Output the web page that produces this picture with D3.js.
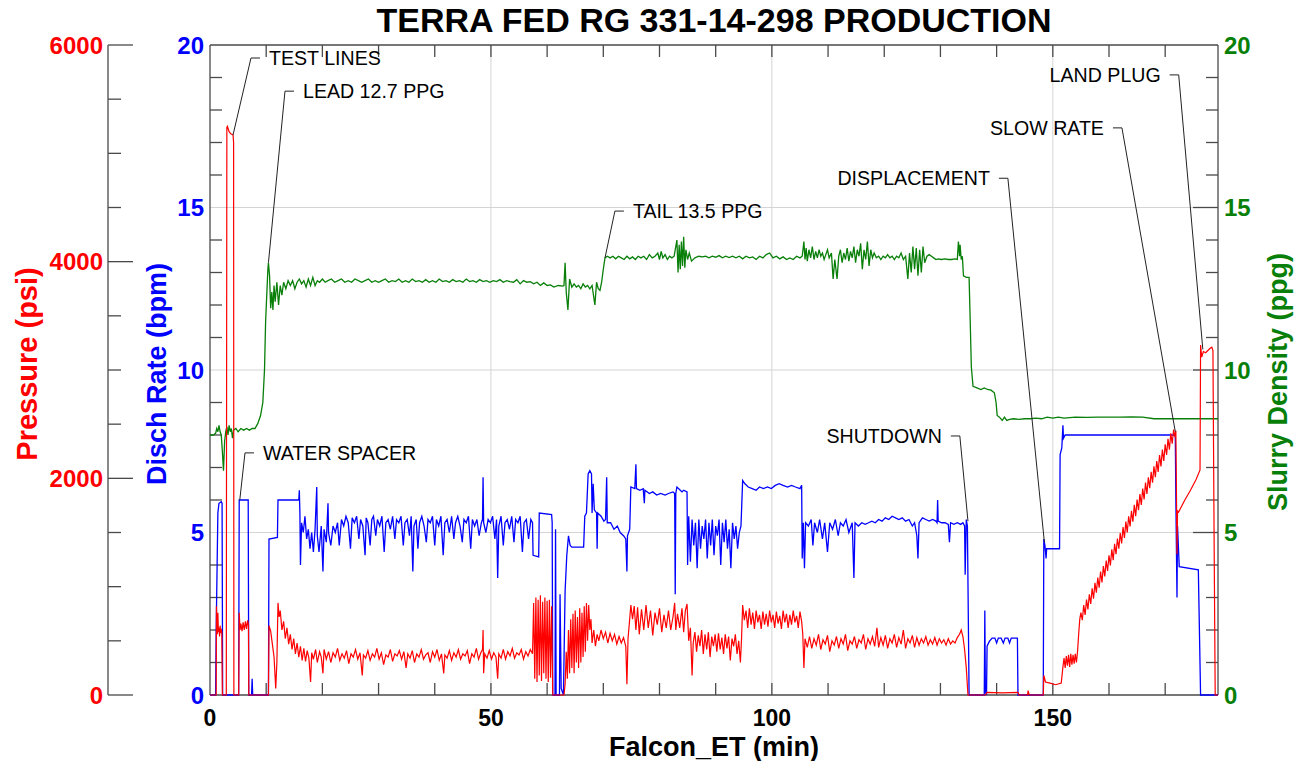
<!DOCTYPE html>
<html><head><meta charset="utf-8">
<script src="https://cdn.jsdelivr.net/npm/d3@7"></script>
<style>body{margin:0;background:#fff}text{font-family:"Liberation Sans",Arial,sans-serif}</style>
</head><body>
<svg id="chart" width="1302" height="761"></svg>
<script>
const chartTitle = "TERRA FED RG 331-14-298 PRODUCTION";
const xTitle = "Falcon_ET (min)";
const xTicks = [0, 50, 100, 150];
const rateTicks = [0, 5, 10, 15, 20];
const pressureTicks = [0, 2000, 4000, 6000];
const densityTicks = [0, 5, 10, 15, 20];

// Disch Rate (bpm) vs time (min)
const rateData = [[0,0],[1.0,0],[1.1,2.0],[1.25,3.8],[1.4,5.6],[1.6,5.9],[2.0,5.95],[2.15,5.9],[2.25,0],
[5.1,0],[5.2,6.0],[6.8,6.0],[6.9,0],[7.4,0],[7.5,0.5],[7.6,0],
[10.4,0],[10.5,4.8],[12.0,4.85],[12.1,6.0],[15.8,6.0],[15.9,6.3],[16.0,5.6],[16.1,4.0],[16.3,5.3],[16.6,5.0],[16.9,5.5],[17.2,4.8],[17.5,5.1],[17.8,4.5],[18.1,5.0],[18.4,4.4],[18.7,5.1],[19.0,6.4],[19.1,4.9],[19.4,4.4],[19.8,5.2],[20.1,3.8],[20.3,5.1],[20.7,4.7],[21.0,5.9],[21.1,5.0],[21.5,4.6],[21.9,5.2],[22.3,5.0],[22.7,5.3],[23.0,4.6],[23.4,5.4],[23.8,5.2],[24.2,5.5],[24.6,5.3],[25.0,4.5],[25.3,5.45],[25.7,5.3],[26.1,5.5],[26.5,4.8],[26.8,5.4],[27.2,5.2],[27.6,4.3],[27.8,5.45],[28.1,5.3],[28.5,4.6],[28.8,5.4],[29.1,5.5],[29.5,4.9],[29.8,5.4],[30.2,5.2],[30.6,5.5],[31.0,4.4],[31.3,5.3],[31.7,5.4],[32.1,5.1],[32.5,5.5],[32.9,4.8],[33.2,5.4],[33.6,5.3],[34.0,5.5],[34.4,4.6],[34.7,5.3],[35.1,5.4],[35.5,4.9],[35.8,5.5],[36.1,3.8],[36.3,5.2],[36.7,5.4],[37.0,4.5],[37.3,5.3],[37.7,5.5],[38.1,5.2],[38.5,4.7],[38.8,5.4],[39.2,5.3],[39.6,5.5],[40.0,4.6],[40.3,5.4],[40.7,5.2],[41.1,5.5],[41.5,4.3],[41.8,5.3],[42.2,5.4],[42.6,5.0],[43.0,5.5],[43.4,4.8],[43.7,5.3],[44.1,5.5],[44.5,5.2],[44.9,4.7],[45.2,5.4],[45.6,5.3],[46.0,5.5],[46.4,4.5],[46.7,5.4],[47.1,5.2],[47.5,5.4],[47.9,4.9],[48.3,5.3],[48.5,5.4],[48.6,6.7],[48.7,5.3],[49.1,5.0],[49.5,5.4],[49.9,5.3],[50.3,5.5],[50.7,4.8],[51.0,5.4],[51.2,3.6],[51.4,5.2],[51.8,5.5],[52.2,4.6],[52.5,5.3],[52.9,5.4],[53.3,5.1],[53.7,5.5],[54.1,4.7],[54.4,5.4],[54.8,5.3],[55.2,5.5],[55.6,4.4],[55.9,5.3],[56.3,5.4],[56.7,4.8],[57.1,5.4],[57.4,5.3],[57.5,4.3],[58.5,4.25],[58.6,5.6],[60.8,5.55],[60.9,5.3],[61.0,0],[61.4,0],[61.5,5.1],[61.6,0],[62.2,0],[62.3,3.1],[62.5,0.2],[62.9,0],[63.2,3.2],[63.5,4.3],[63.8,4.9],[64.1,4.6],[64.4,4.55],[66.5,4.55],[66.7,5.5],[67.0,5.6],[67.3,6.8],[67.6,6.9],[67.9,6.8],[68.0,5.6],[68.2,6.5],[68.4,5.7],[68.8,5.6],[68.9,4.5],[69.0,5.6],[69.6,5.5],[70.1,5.35],[70.4,5.4],[70.6,6.7],[70.7,5.3],[71.3,5.3],[71.9,5.1],[72.5,5.2],[73.0,5.0],[73.6,4.9],[74.0,4.8],[74.2,3.8],[74.3,4.9],[74.7,5.1],[74.9,6.4],[75.6,6.35],[75.8,7.1],[75.9,6.35],[76.5,6.3],[77.1,6.35],[77.3,5.9],[77.4,6.3],[78.2,6.2],[78.8,6.25],[79.5,6.15],[80.2,6.2],[81.0,6.15],[81.6,6.2],[82.4,6.25],[82.7,6.2],[82.8,3.1],[82.9,6.2],[83.1,6.4],[83.7,6.3],[84.0,6.25],[84.3,6.3],[84.9,6.25],
[85.0,4.0],[85.2,5.5],[85.5,4.1],[85.8,5.4],[86.1,4.6],[86.4,5.3],[86.7,3.9],[87.0,5.4],[87.3,4.5],[87.6,5.2],[87.9,4.8],[88.2,5.4],[88.5,4.2],[88.8,5.3],[89.1,4.6],[89.4,5.4],[89.7,4.3],[90.0,5.2],[90.3,4.9],[90.6,5.4],[90.9,4.0],[91.2,5.3],[91.5,4.7],[91.8,5.4],[92.1,4.5],[92.4,5.1],[92.7,3.9],[93.0,5.3],[93.3,4.8],[93.6,5.2],[93.9,4.5],[94.2,5.0],[94.5,5.2],[94.8,6.6],[95.2,6.5],[95.8,6.4],[96.5,6.35],[97.2,6.3],[97.8,6.4],[98.5,6.35],[99.2,6.4],[99.9,6.35],[100.6,6.45],[101.3,6.5],[102.0,6.45],[102.8,6.4],[103.5,6.45],[104.2,6.4],[105.0,6.35],[105.3,6.45],
[105.4,4.2],[105.6,5.3],[105.8,3.9],[106.0,5.3],[106.5,5.2],[107.0,5.4],[107.3,4.6],[107.6,5.3],[108.1,5.0],[108.5,5.4],[109.0,4.8],[109.4,5.3],[109.9,4.4],[110.3,5.3],[110.8,5.1],[111.3,5.4],[111.8,4.9],[112.2,5.3],[112.7,5.2],[113.2,5.4],[113.7,5.0],[114.3,5.3],[114.6,3.6],[114.8,5.3],[115.4,5.2],[116.0,5.3],[116.6,5.25],[117.2,5.3],[117.8,5.35],[118.4,5.3],[119.0,5.4],[119.6,5.35],[120.2,5.45],[120.8,5.4],[121.4,5.5],[122.0,5.45],[122.6,5.4],[123.2,5.45],[123.8,5.35],[124.4,5.4],[125.0,5.2],[125.4,5.3],[125.8,4.9],[126.0,4.2],[126.2,5.3],[126.8,5.45],[127.4,5.4],[128.0,5.35],[128.6,5.4],[129.2,5.35],[129.4,5.3],[129.5,6.0],[129.6,5.35],[130.2,5.3],[130.8,5.3],[131.4,5.25],[131.6,4.7],[131.8,5.3],[132.4,5.25],[133.0,5.3],[133.6,5.25],[134.0,5.3],[134.3,5.2],[134.4,3.7],[134.6,5.4],[134.8,5.2],[135.1,0],
[137.8,0],[137.9,2.6],[138.0,0.1],[138.2,0],[138.3,1.5],[138.7,1.65],[139.2,1.75],[139.7,1.75],[140.0,1.6],[140.3,1.75],[140.8,1.75],[141.2,1.6],[141.5,1.75],[142.0,1.75],[142.3,1.6],[142.6,1.75],[143.7,1.75],[143.8,0],
[148.3,0],[148.4,4.8],[148.6,4.6],[148.8,4.2],[148.9,4.5],[151.2,4.5],[151.3,7.4],[151.6,7.6],[151.8,8.3],[151.9,7.9],[152.2,8.0],[160.0,8.0],[171.8,8.0],[171.9,6.0],[172.0,4.5],[172.1,3.0],[172.2,5.2],[172.5,3.95],[175.9,3.85],[176.3,0],[179.4,0]];

// Pressure (psi) vs time (min)
const pressureData = [[0,0],[1.1,0],[1.15,820],[1.3,560],[1.4,760],[1.5,580],[1.6,620],[1.7,540],[1.8,640],[1.9,570],[2.0,610],[2.1,580],[2.2,0],
[2.9,0],[3.0,5240],[3.1,5250],[3.4,5200],[3.7,5180],[4.1,5170],[4.2,5100],[4.25,0],
[5.1,0],[5.2,760],[5.35,600],[5.5,660],[5.7,590],[5.9,670],[6.1,600],[6.3,680],[6.5,610],[6.7,690],[6.85,640],[6.9,0],
[10.4,0],[10.5,640],[10.8,590],[11.1,470],[11.4,350],[11.7,60],[11.9,300],[12.1,850],[12.3,720],[12.5,780],[12.8,600],[13.1,680],[13.4,520],[13.7,620],[14.0,470],[14.3,560],[14.6,420],[14.9,520],[15.2,380],[15.5,480],[15.8,350],[16.1,450],[16.4,320],[16.7,430],[17.0,310],[17.3,410],[17.6,340],[17.9,120],[18.1,390],[18.4,330],[18.8,420],[19.1,300],[19.5,400],[19.8,350],[20.1,200],
[20.3,420],[20.7,330],[21.1,400],[21.5,300],[21.9,390],[22.3,350],[22.7,430],[23.1,320],[23.5,380],[23.9,340],[24.3,410],[24.7,290],[25.1,380],[25.5,350],[25.9,420],[26.3,330],[26.7,390],[27.1,180],[27.3,370],[27.7,340],[28.1,410],[28.5,320],[28.9,380],[29.3,350],[29.7,430],[30.1,330],[30.5,390],[30.9,280],[31.3,370],[31.7,350],[32.1,420],[32.5,310],[32.9,380],[33.3,360],[33.7,410],[34.1,330],[34.5,400],[34.9,250],[35.2,380],[35.6,340],[36.0,410],[36.4,300],[36.8,380],[37.2,350],[37.6,420],[38.0,330],[38.4,370],[38.8,390],[39.2,300],[39.6,400],[40.0,350],[40.4,420],[40.8,320],[41.2,380],[41.6,200],[41.8,370],[42.2,340],[42.6,410],[43.0,320],[43.4,390],[43.8,350],[44.2,420],[44.6,330],[45.0,380],[45.4,360],[45.8,410],[46.2,290],[46.6,380],[47.0,350],[47.4,430],[47.8,330],[48.2,390],[48.5,420],[48.6,600],[48.7,200],[48.9,380],[49.3,340],[49.7,410],[50.1,330],[50.5,390],[50.9,350],[51.2,150],[51.4,380],[51.8,340],[52.2,420],[52.6,330],[53.0,400],[53.4,360],[53.8,430],[54.2,340],[54.6,390],[55.0,370],[55.4,420],[55.8,330],[56.2,400],[56.6,360],[57.0,420],[57.4,380],
[57.6,850],[57.8,150],[58.0,900],[58.2,120],[58.4,880],[58.6,180],[58.8,920],[59.0,130],[59.2,860],[59.4,200],[59.6,900],[59.8,150],[60.0,870],[60.2,120],[60.4,880],[60.6,160],[60.8,820],[61.0,0],
[63.0,0],[63.2,100],[63.4,400],[63.6,150],[63.8,600],[64.0,200],[64.2,700],[64.4,250],[64.6,750],[64.8,200],[65.0,780],[65.2,300],[65.4,720],[65.6,250],[65.8,800],[66.0,300],[66.2,760],[66.4,350],[66.6,820],[66.8,400],[67.0,850],[67.2,500],[67.4,830],[67.6,600],[67.8,700],[68.0,480],[68.3,600],[68.6,450],[68.9,560],[69.2,500],[69.6,600],[70.0,520],[70.4,580],[70.8,480],[71.2,570],[71.6,500],[72.0,560],[72.4,470],[72.8,540],[73.2,480],[73.6,530],[74.0,450],[74.2,100],[74.4,520],
[74.9,830],[75.2,700],[75.5,820],[75.8,600],[76.1,810],[76.4,560],[76.8,790],[77.2,600],[77.6,830],[78.0,620],[78.4,780],[78.8,550],[79.2,760],[79.6,650],[80.0,800],[80.4,580],[80.8,740],[81.2,620],[81.6,780],[82.0,600],[82.4,720],[82.7,850],[82.9,600],[83.2,750],[83.6,620],[84.0,800],[84.3,580],[84.6,780],[84.9,840],
[85.2,500],[85.5,620],[85.8,180],[86.0,480],[86.3,580],[86.6,400],[86.9,550],[87.2,450],[87.5,600],[87.8,380],[88.1,560],[88.4,420],[88.7,580],[89.0,350],[89.3,540],[89.6,450],[89.9,560],[90.2,400],[90.5,570],[90.8,420],[91.1,530],[91.4,380],[91.7,560],[92.0,430],[92.3,540],[92.6,320],[92.9,520],[93.2,450],[93.5,560],[93.8,380],[94.1,500],[94.4,300],[94.6,520],
[94.8,830],[95.1,690],[95.4,780],[95.7,620],[96.0,800],[96.3,650],[96.6,760],[96.9,610],[97.2,780],[97.5,670],[97.8,740],[98.1,610],[98.4,770],[98.7,650],[99.0,750],[99.3,630],[99.6,780],[99.9,670],[100.2,740],[100.5,620],[100.8,770],[101.1,660],[101.4,730],[101.7,610],[102.0,780],[102.3,670],[102.6,750],[102.9,620],[103.2,740],[103.5,650],[103.8,780],[104.1,670],[104.4,730],[104.7,620],[105.0,770],[105.3,680],
[105.5,560],[105.7,250],[105.9,520],[106.3,440],[106.7,540],[107.1,430],[107.5,520],[107.9,460],[108.3,560],[108.7,420],[109.1,510],[109.5,470],[109.9,550],[110.3,400],[110.7,500],[111.1,460],[111.5,540],[111.9,430],[112.3,520],[112.7,470],[113.1,560],[113.5,410],[113.9,500],[114.3,470],[114.7,540],[115.1,430],[115.5,510],[115.9,480],[116.3,560],[116.7,420],[117.1,520],[117.5,470],[117.9,540],[118.3,450],[118.7,620],[119.0,440],[119.4,530],[119.8,460],[120.2,550],[120.6,430],[121.0,520],[121.4,480],[121.8,560],[122.2,440],[122.6,530],[123.0,470],[123.4,600],[123.8,430],[124.2,520],[124.6,480],[125.0,550],[125.4,440],[125.8,530],[126.2,460],[126.6,520],[127.0,480],[127.4,540],[127.8,460],[128.2,510],[128.6,470],[129.0,530],[129.4,460],[129.8,520],[130.2,480],[130.6,510],[131.0,460],[131.4,520],[131.8,470],[132.2,500],[132.6,480],[133.0,530],[133.4,560],[133.7,600],[134.0,540],[134.3,420],[134.6,250],[134.9,0],
[138.0,0],[138.3,25],[141.0,20],[143.8,25],[144.0,0],[145.5,0],[145.6,40],[145.8,0],[148.3,0],[148.4,180],[148.7,120],[149.5,110],[150.5,95],[151.5,110],
[151.8,260],[152.0,340],[152.2,250],[152.4,360],[152.6,270],[152.8,370],[153.0,260],[153.2,380],[153.4,280],[153.6,370],[153.8,290],[154.0,380],[154.2,300],[154.4,400],[154.6,560],[154.8,700],
[155.0,760],[155.25,690],[155.5,830],[155.75,740],[156.0,880],[156.25,790],[156.5,930],[156.75,840],[157.0,985],[157.25,890],[157.5,1035],[157.75,945],[158.0,1085],[158.25,990],[158.5,1140],[158.75,1040],[159.0,1190],[159.25,1095],[159.5,1240],[159.75,1145],[160.0,1290],[160.25,1195],[160.5,1345],[160.75,1245],[161.0,1395],[161.25,1300],[161.5,1445],[161.75,1350],[162.0,1495],[162.25,1400],[162.5,1550],[162.75,1450],[163.0,1600],[163.25,1500],[163.5,1650],[163.75,1555],[164.0,1700],[164.25,1600],[164.5,1755],[164.75,1650],[165.0,1805],[165.25,1705],[165.5,1855],[165.75,1755],[166.0,1905],[166.25,1805],[166.5,1960],[166.75,1855],[167.0,2010],[167.25,1910],[167.5,2060],[167.75,1960],[168.0,2110],[168.25,2010],[168.5,2160],[168.75,2060],[169.0,2215],[169.25,2110],[169.5,2265],[169.75,2160],[170.0,2315],[170.25,2215],[170.5,2365],[170.75,2265],[171.0,2415],[171.25,2320],[171.5,2450],[171.75,2380],[171.9,2440],
[172.0,1900],[172.1,1300],[172.2,1700],[172.4,1690],[173.5,1800],[174.5,1890],[175.5,1990],[176.2,2077],[176.3,3230],[176.5,3120],[176.8,3170],[177.2,3160],[177.6,3180],[178.0,3200],[178.3,3210],[178.5,3180],[178.7,1500],[178.9,0],[179.4,0]];

// Slurry Density (ppg) vs time (min)
const densityData = [[0,8.0],[0.6,8.0],[1.0,8.05],[1.2,8.2],[1.4,8.1],[1.6,8.3],[1.8,8.1],[2.0,8.0],[2.2,7.5],[2.4,6.9],[2.6,7.8],[2.8,8.1],[3.0,8.25],[3.2,8.0],[3.4,8.3],[3.6,8.1],[3.8,8.2],[4.0,7.9],[4.2,8.15],[4.6,8.2],[5.0,8.1],[5.5,8.2],[6.0,8.15],[6.5,8.2],[7.0,8.15],[7.5,8.2],[8.0,8.2],[8.5,8.35],[9.0,8.6],[9.4,9.0],[9.7,10.0],[9.9,11.5],[10.1,12.3],[10.3,13.1],[10.4,13.3],[10.6,12.9],[10.8,11.9],[11.0,12.4],[11.2,11.85],[11.4,12.6],[11.6,12.1],[11.9,12.7],[12.2,12.0],[12.5,12.6],[12.8,12.3],[13.1,12.7],[13.5,12.5],[13.9,12.75],[14.3,12.6],[14.7,12.75],[15.1,12.5],[15.5,12.7],[15.9,12.8],[16.3,12.65],[16.7,12.75],[17.1,12.55],[17.5,12.8],[17.9,12.6],[18.3,12.85],[18.7,12.6],[19.1,12.75],[19.5,12.7],[20.0,12.8],[20.5,12.7],[21.0,12.75],[21.6,12.8],[22.2,12.7],[22.8,12.75],[23.4,12.8],[24.0,12.7],[24.6,12.75],[25.2,12.7],[25.8,12.8],[26.4,12.75],[27.0,12.7],[27.6,12.75],[28.2,12.8],[28.8,12.7],[29.4,12.75],[30.0,12.7],[30.6,12.75],[31.2,12.8],[31.8,12.7],[32.4,12.75],[33.0,12.72],[33.6,12.8],[34.2,12.7],[34.8,12.75],[35.4,12.7],[36.0,12.8],[36.6,12.72],[37.2,12.75],[37.8,12.7],[38.4,12.78],[39.0,12.7],[39.6,12.75],[40.2,12.7],[40.8,12.8],[41.4,12.72],[42.0,12.75],[42.6,12.7],[43.2,12.78],[43.8,12.72],[44.4,12.75],[45.0,12.7],[45.6,12.8],[46.2,12.72],[46.8,12.75],[47.4,12.7],[48.0,12.78],[48.6,12.72],[49.2,12.75],[49.8,12.7],[50.4,12.75],[51.0,12.72],[51.6,12.78],[52.2,12.7],[52.8,12.75],[53.4,12.72],[54.0,12.7],[54.6,12.78],[55.2,12.65],[55.8,12.75],[56.4,12.7],[57.0,12.72],[57.6,12.65],[58.2,12.7],[58.8,12.6],[59.4,12.68],[60.0,12.6],[60.6,12.62],[61.2,12.55],[62.0,12.6],[62.8,12.58],[63.0,12.6],[63.2,13.3],[63.4,12.4],[63.7,11.85],[64.0,12.8],[64.4,12.55],[64.8,12.65],[65.2,12.55],[65.6,12.6],[66.0,12.5],[66.4,12.65],[66.8,12.55],[67.2,12.6],[67.6,12.5],[68.0,12.6],[68.5,12.0],[68.8,12.7],[69.1,12.5],[69.4,12.45],[69.7,12.7],[70.0,13.1],[70.3,13.45],[70.7,13.5],[71.2,13.45],[71.7,13.5],[72.2,13.42],[72.7,13.5],[73.2,13.45],[73.7,13.4],[74.2,13.5],[74.7,13.42],[75.2,13.48],[75.7,13.4],[76.2,13.5],[76.7,13.45],[77.2,13.5],[77.7,13.4],[78.2,13.55],[78.7,13.45],[79.2,13.5],[79.7,13.6],[80.0,13.4],[80.3,13.65],[80.6,13.45],[81.0,13.55],[81.4,13.4],[81.8,13.5],[82.2,13.45],[82.6,13.5],[83.1,14.0],[83.3,13.0],[83.5,13.85],[83.7,13.1],[83.9,13.95],[84.1,13.2],[84.3,14.1],[84.5,13.15],[84.7,13.7],[85.0,13.4],[85.3,13.6],[85.7,13.35],[86.3,13.45],[87.0,13.5],[87.6,13.48],[88.2,13.5],[88.8,13.45],[89.4,13.5],[90.0,13.47],[90.6,13.52],[91.2,13.45],[91.8,13.5],[92.4,13.46],[93.0,13.5],[93.6,13.45],[94.2,13.5],[94.8,13.42],[95.4,13.5],[96.0,13.45],[96.6,13.48],[97.2,13.4],[97.8,13.5],[98.4,13.45],[99.0,13.55],[99.6,13.6],[100.2,13.45],[100.8,13.5],[101.4,13.42],[102.0,13.48],[102.6,13.4],[103.2,13.45],[103.8,13.4],[104.4,13.5],[105.0,13.45],[105.4,13.5],[105.7,13.95],[105.9,13.4],[106.1,13.75],[106.3,13.35],[106.6,13.7],[106.9,13.45],[107.2,13.8],[107.5,13.4],[107.8,13.65],[108.1,13.45],[108.4,13.7],[108.7,13.5],[109.0,13.6],[109.3,13.4],[109.6,13.55],[109.9,13.7],[110.2,13.45],[110.6,13.6],[110.9,12.8],[111.2,13.4],[111.6,12.8],[111.9,13.5],[112.2,13.7],[112.5,13.3],[112.8,13.6],[113.1,13.4],[113.4,13.75],[113.7,13.35],[114.0,13.65],[114.3,13.45],[114.6,13.8],[114.9,13.3],[115.2,13.7],[115.5,13.5],[115.8,13.9],[116.1,13.1],[116.4,13.7],[116.7,13.4],[117.0,13.95],[117.3,13.2],[117.6,13.7],[117.9,13.45],[118.2,13.6],[118.6,13.45],[119.0,13.5],[119.4,13.4],[119.8,13.5],[120.2,13.45],[120.6,13.55],[121.0,13.45],[121.4,13.5],[121.8,13.4],[122.2,13.5],[122.6,13.45],[123.0,13.6],[123.4,13.4],[123.8,13.5],[124.2,12.8],[124.5,13.6],[124.8,13.0],[125.1,13.8],[125.4,13.1],[125.7,13.75],[126.0,12.9],[126.3,13.7],[126.6,13.0],[126.9,13.8],[127.2,13.3],[127.6,13.5],[128.0,13.55],[128.4,13.5],[128.8,13.45],[129.2,13.4],[129.6,13.42],[130.2,13.4],[130.8,13.42],[131.4,13.4],[132.0,13.4],[132.6,13.42],[133.0,13.4],[133.2,13.95],[133.4,13.5],[133.5,13.85],[133.7,13.4],[133.9,13.5],[134.1,12.9],[134.6,12.85],[135.1,12.85],[135.3,11.5],[135.5,10.1],[135.8,9.5],[136.5,9.45],[137.2,9.4],[137.8,9.45],[138.4,9.4],[139.0,9.38],[139.6,9.3],[139.9,9.0],[140.1,8.6],[140.5,8.55],[141.0,8.45],[141.4,8.55],[141.8,8.45],[142.3,8.48],[143.0,8.5],[144.0,8.48],[145.0,8.5],[146.0,8.5],[147.0,8.52],[148.0,8.5],[149.0,8.55],[150.0,8.52],[151.0,8.55],[152.0,8.52],[154.0,8.55],[156.0,8.54],[158.0,8.55],[160.0,8.55],[162.0,8.55],[164.0,8.56],[166.0,8.55],[168.0,8.5],[170.0,8.5],[172.0,8.5],[175.0,8.5],[179.4,8.5]];

// annotations: label position (time, rate units), target on a series
const annotations = [
  {text:"TEST LINES",    lt:10.5,  lv:19.6,  anchor:"start", series:"pressure", tt:4.1,   tv:5170},
  {text:"LEAD 12.7 PPG", lt:16.55, lv:18.58, anchor:"start", series:"density",  tt:10.4,  tv:13.3},
  {text:"WATER SPACER",  lt:9.43,  lv:7.45,  anchor:"start", series:"rate",     tt:5.3,   tv:6.0},
  {text:"TAIL 13.5 PPG", lt:75.27, lv:14.89, anchor:"start", series:"density",  tt:70.3,  tv:13.45},
  {text:"DISPLACEMENT",  lt:138.8, lv:15.9,  anchor:"end",   series:"rate",     tt:148.5, tv:4.7},
  {text:"SHUTDOWN",      lt:130.25,lv:7.97,  anchor:"end",   series:"rate",     tt:134.9, tv:5.35},
  {text:"SLOW RATE",     lt:159.1, lv:17.45, anchor:"end",   series:"pressure", tt:171.8, tv:2430},
  {text:"LAND PLUG",     lt:169.2, lv:19.08, anchor:"end",   series:"pressure", tt:176.7, tv:3190}
];

const RED = "#ff0000", BLUE = "#0000ff", GREEN = "#087f08", AX = "#4a4a4a";
const L = 210, R = 1218, T = 45, B = 695;
const x = d3.scaleLinear().domain([0, 179.4]).range([L, R]);
const yRate = d3.scaleLinear().domain([0, 20]).range([B, T]);
const yP = d3.scaleLinear().domain([0, 6000]).range([B, T]);
const yD = d3.scaleLinear().domain([0, 20]).range([B, T]);
const yFor = {rate: yRate, pressure: yP, density: yD};

const svg = d3.select("#chart");
svg.append("rect").attr("width",1302).attr("height",761).attr("fill","#fff");
svg.append("defs").append("clipPath").attr("id","clip").append("rect")
  .attr("x",L).attr("y",T-1).attr("width",R-L).attr("height",B-T+2);

// grid
const grid = svg.append("g").attr("stroke","#d4d4d4").attr("stroke-width",1);
grid.selectAll("line.vg").data(xTicks.filter(d=>d>0)).join("line").attr("class","vg")
  .attr("x1",d=>x(d)).attr("x2",d=>x(d)).attr("y1",T).attr("y2",B);
grid.selectAll("line.hg").data(rateTicks.filter(d=>d>0&&d<20)).join("line").attr("class","hg")
  .attr("x1",L).attr("x2",R).attr("y1",d=>yRate(d)).attr("y2",d=>yRate(d));

// frame & ticks
const ax = svg.append("g").attr("stroke",AX).attr("stroke-width",1.3);
ax.append("line").attr("x1",L).attr("x2",R).attr("y1",T).attr("y2",T);
ax.append("line").attr("x1",L).attr("x2",R).attr("y1",B).attr("y2",B);
ax.append("line").attr("x1",L).attr("x2",L).attr("y1",T).attr("y2",B);
ax.append("line").attr("x1",R).attr("x2",R).attr("y1",T).attr("y2",B);
const xMinor = d3.range(10, 179, 10);
ax.selectAll("line.xb").data(xMinor).join("line").attr("class","xb")
  .attr("x1",d=>x(d)).attr("x2",d=>x(d)).attr("y1",B).attr("y2",B-12);
ax.selectAll("line.xt").data(xMinor).join("line").attr("class","xt")
  .attr("x1",d=>x(d)).attr("x2",d=>x(d)).attr("y1",T).attr("y2",T+12);
const rMinor = d3.range(1, 20, 1).filter(d=>d%5!==0);
ax.selectAll("line.rl").data(rMinor).join("line").attr("class","rl")
  .attr("x1",L).attr("x2",L+12).attr("y1",d=>yRate(d)).attr("y2",d=>yRate(d));
ax.selectAll("line.dr").data(d3.range(1,20,1)).join("line").attr("class","dr")
  .attr("x1",R).attr("x2",d=>d%5===0?R-25:R-12).attr("y1",d=>yD(d)).attr("y2",d=>yD(d));
// pressure axis
const PX = 108;
ax.append("line").attr("x1",PX).attr("x2",PX).attr("y1",T).attr("y2",B);
ax.selectAll("line.pt").data(d3.range(0,6001,500)).join("line").attr("class","pt")
  .attr("x1",PX).attr("x2",d=>d%2000===0?PX+25:PX+13).attr("y1",d=>yP(d)).attr("y2",d=>yP(d));

// tick labels
const lab = (sel, color) => sel.attr("font-size",24).attr("font-weight","bold").attr("fill",color);
svg.append("g").selectAll("text").data(pressureTicks).join("text").call(lab,RED)
  .attr("x",PX-5).attr("y",d=>yP(d)).attr("dy","0.36em").attr("text-anchor","end").text(d=>d);
svg.append("g").selectAll("text").data(rateTicks).join("text").call(lab,BLUE)
  .attr("x",L-6).attr("y",d=>yRate(d)).attr("dy","0.36em").attr("text-anchor","end").text(d=>d);
svg.append("g").selectAll("text").data(densityTicks).join("text").call(lab,GREEN)
  .attr("x",R+6).attr("y",d=>yD(d)).attr("dy","0.36em").attr("text-anchor","start").text(d=>d);
svg.append("g").selectAll("text").data(xTicks).join("text").call(lab,"#000")
  .attr("font-size",23).attr("x",d=>x(d)).attr("y",726).attr("text-anchor","middle").text(d=>d);

// titles
svg.append("text").attr("x",714).attr("y",32).attr("text-anchor","middle")
  .attr("font-size",34).attr("font-weight","bold").attr("fill","#000").text(chartTitle);
svg.append("text").attr("x",714).attr("y",756).attr("text-anchor","middle")
  .attr("font-size",27).attr("font-weight","bold").attr("fill","#000").text(xTitle);
const ytitle = (tx, ty, txt, color, fs) => svg.append("text")
  .attr("transform",`translate(${tx},${ty}) rotate(-90)`).attr("text-anchor","middle")
  .attr("font-size",fs).attr("font-weight","bold").attr("fill",color).text(txt);
ytitle(37, 364, "Pressure (psi)", RED, 29);
ytitle(166, 374, "Disch Rate (bpm)", BLUE, 27);
ytitle(1287, 382, "Slurry Density (ppg)", GREEN, 27);

// series
const plot = svg.append("g").attr("clip-path","url(#clip)");
const mk = y => d3.line().x(d=>x(d[0])).y(d=>y(d[1]));
plot.append("path").datum(densityData).attr("d",mk(yD)).attr("fill","none").attr("stroke",GREEN).attr("stroke-width",1.3);
plot.append("path").datum(rateData).attr("d",mk(yRate)).attr("fill","none").attr("stroke",BLUE).attr("stroke-width",1.3);
plot.append("path").datum(pressureData).attr("d",mk(yP)).attr("fill","none").attr("stroke",RED).attr("stroke-width",1.2);

// annotations
const ann = svg.append("g");
annotations.forEach(a => {
  const tx = x(a.lt), ty = yRate(a.lv);
  ann.append("text").attr("x",tx).attr("y",ty).attr("dy","0.36em").attr("text-anchor",a.anchor)
    .attr("font-size",19.6).attr("fill","#000").text(a.text);
  const dir = a.anchor === "start" ? -1 : 1;
  const x0 = tx + dir*9, x1 = tx + dir*18;
  const px = x(a.tt), py = yFor[a.series](a.tv);
  ann.append("path").attr("d",`M${x0},${ty}L${x1},${ty}L${px},${py}`)
    .attr("fill","none").attr("stroke","#222").attr("stroke-width",1);
});
</script>
</body></html>
